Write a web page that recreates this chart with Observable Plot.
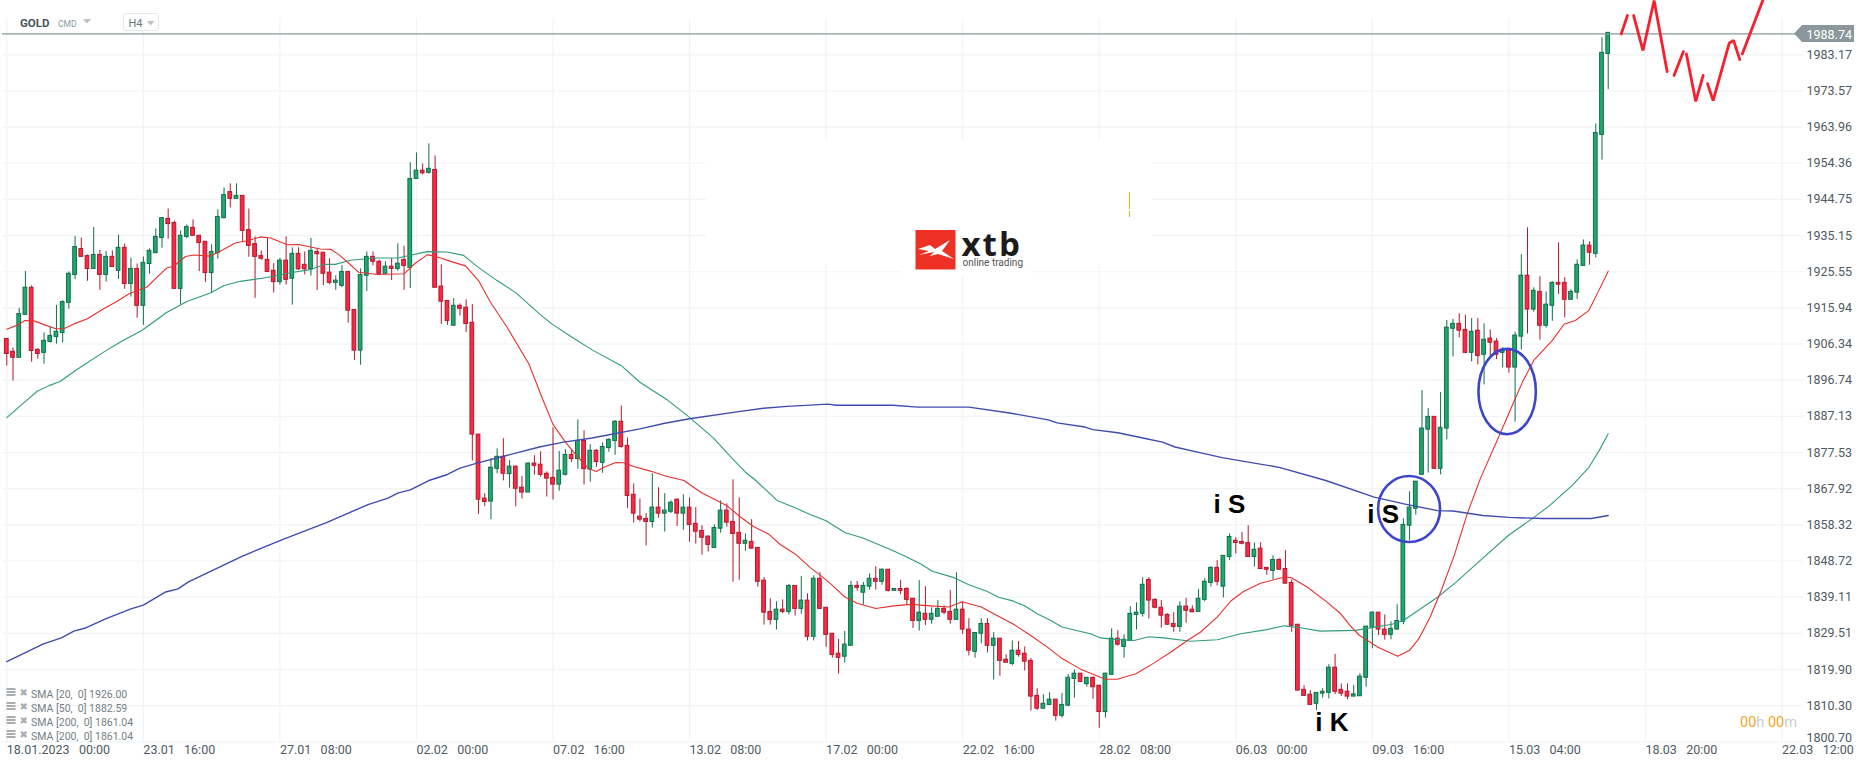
<!DOCTYPE html>
<html>
<head>
<meta charset="utf-8">
<script src="https://cdn.jsdelivr.net/npm/d3@7"></script>
<script src="https://cdn.jsdelivr.net/npm/@observablehq/plot@0.6"></script>
<style>
html,body{margin:0;padding:0;background:#fff}
svg{display:block}
</style>
</head>
<body>
<div id="chart"></div>
<script>
const opens = [
1907.7,1904.3,1902.7,1914.1,1921.3,1904.8,1904.0,1906.9,1908.2,1909.3,
1917.3,1924.7,1931.6,1929.7,1926.3,1930.0,1924.7,1929.5,1925.8,1931.9,
1922.3,1926.3,1916.5,1927.6,1930.5,1934.5,1939.6,1938.5,1921.0,1934.8,
1937.2,1935.1,1933.5,1925.2,1930.5,1939.8,1946.7,1944.9,1945.7,1936.6,
1932.9,1929.7,1928.7,1925.8,1922.8,1928.5,1923.7,1930.3,1927.4,1926.2,
1930.8,1930.6,1925.3,1922.6,1921.8,1925.5,1915.4,1904.6,1924.5,1929.5,
1928.2,1925.0,1926.9,1926.3,1928.7,1926.6,1950.2,1952.4,1951.8,1952.6,
1921.6,1917.8,1911.2,1916.5,1916.0,1912.0,1882.3,1865.3,1864.5,1873.2,
1876.4,1871.8,1873.8,1868.2,1866.9,1874.6,1874.3,1871.9,1870.8,1869.0,
1871.6,1876.9,1875.8,1880.6,1873.0,1878.0,1874.8,1878.7,1880.6,1885.7,
1879.3,1866.3,1860.5,1859.9,1859.1,1862.9,1861.3,1861.8,1865.0,1861.3,
1862.9,1858.6,1856.7,1855.2,1852.2,1857.3,1862.1,1859.1,1856.2,1853.3,
1853.8,1852.2,1843.5,1835.2,1833.1,1835.8,1835.2,1842.1,1836.0,1838.2,
1828.6,1844.0,1836.3,1829.4,1824.1,1823.3,1826.2,1842.1,1840.3,1841.9,
1844.0,1843.2,1846.4,1840.8,1841.3,1841.3,1838.7,1832.8,1834.7,1833.1,
1833.9,1836.0,1835.2,1833.1,1835.8,1830.5,1824.6,1829.4,1832.0,1826.2,
1828.1,1822.5,1821.4,1824.9,1824.1,1822.2,1812.9,1809.5,1810.5,1811.9,
1807.6,1810.3,1817.4,1818.8,1816.0,1817.7,1815.6,1808.6,1818.5,1828.1,
1825.9,1827.5,1834.4,1834.7,1843.7,1838.4,1836.3,1834.4,1832.0,1831.2,
1836.6,1835.8,1835.2,1838.4,1842.9,1846.9,1841.9,1849.8,1854.1,1853.8,
1853.5,1849.8,1852.0,1846.9,1846.1,1849.0,1846.6,1842.9,1831.8,1814.5,
1813.2,1810.8,1813.5,1813.7,1820.4,1814.5,1814.0,1812.7,1812.8,1817.7,
1831.0,1835.0,1830.5,1829.1,1830.5,1832.6,1858.1,1862.6,1871.6,1883.6,
1887.0,1873.2,1883.9,1910.4,1911.7,1910.1,1904.0,1909.9,1903.5,1907.8,
1907.0,1904.0,1904.6,1900.1,1908.3,1924.5,1915.5,1920.2,1911.2,1916.5,
1922.6,1922.6,1918.1,1920.0,1927.1,1932.5,1930.3,1961.9,1983.4];
const closes = [
1903.7,1902.7,1914.3,1921.3,1904.5,1903.7,1907.2,1908.5,1909.6,1917.5,
1925.0,1932.1,1929.5,1926.3,1930.0,1924.7,1929.5,1926.8,1931.9,1922.3,
1926.3,1916.5,1927.9,1931.1,1934.8,1939.8,1938.2,1921.0,1935.1,1937.4,
1935.1,1933.2,1925.2,1930.8,1940.1,1945.9,1944.9,1945.7,1936.4,1932.4,
1929.5,1929.0,1925.5,1922.8,1928.5,1923.4,1930.3,1926.2,1926.2,1931.1,
1930.2,1925.0,1922.6,1923.2,1925.5,1915.2,1904.6,1924.7,1929.5,1928.2,
1925.0,1926.9,1926.3,1927.7,1927.1,1950.2,1952.4,1951.7,1952.9,1921.3,
1917.6,1912.5,1916.5,1915.7,1911.7,1882.3,1865.0,1864.4,1873.5,1876.4,
1871.9,1873.8,1867.9,1866.9,1874.6,1874.0,1871.6,1870.6,1869.0,1872.7,
1876.9,1875.8,1880.6,1873.1,1878.0,1875.0,1879.0,1880.9,1885.7,1879.0,
1866.0,1861.3,1859.7,1859.1,1862.9,1861.3,1862.1,1864.2,1861.3,1862.9,
1858.3,1856.5,1854.9,1853.0,1857.5,1862.1,1858.9,1855.9,1853.3,1854.1,
1852.0,1843.2,1835.0,1833.1,1835.8,1835.2,1842.1,1836.0,1838.2,1828.6,
1844.0,1836.0,1829.1,1823.8,1823.0,1826.5,1842.1,1841.6,1842.1,1844.0,
1843.2,1846.4,1840.8,1841.3,1840.8,1838.4,1832.8,1835.0,1833.1,1834.7,
1836.0,1835.0,1833.1,1835.8,1830.5,1824.9,1829.6,1832.0,1826.2,1828.1,
1822.2,1821.7,1824.9,1823.8,1822.0,1812.7,1809.5,1810.8,1811.9,1807.6,
1810.5,1817.7,1818.8,1816.6,1817.7,1815.2,1808.6,1818.8,1828.1,1826.5,
1827.8,1834.7,1835.0,1842.4,1838.2,1836.3,1834.2,1831.8,1831.2,1836.6,
1835.5,1835.1,1838.7,1843.2,1846.9,1843.2,1850.1,1855.1,1853.5,1853.3,
1849.8,1851.7,1846.6,1846.4,1849.0,1846.4,1842.7,1831.5,1814.3,1812.9,
1810.5,1813.7,1814.0,1820.4,1814.0,1813.5,1812.7,1813.3,1818.0,1831.3,
1835.0,1830.5,1829.1,1830.7,1832.8,1858.3,1862.9,1869.8,1883.9,1887.0,
1873.2,1884.1,1910.7,1911.7,1909.9,1904.0,1909.6,1903.2,1907.5,1906.7,
1903.5,1904.8,1900.1,1908.6,1924.5,1915.5,1920.5,1911.2,1916.8,1922.6,
1922.1,1918.1,1920.2,1927.4,1932.5,1930.6,1962.4,1983.7,1989.0];
const highs = [
1907.7,1905.3,1915.8,1925.6,1921.8,1905.1,1909.3,1910.8,1916.6,1917.9,
1925.5,1934.9,1934.5,1930.0,1937.3,1931.2,1930.9,1931.1,1935.3,1932.9,
1929.2,1927.6,1929.5,1931.6,1936.9,1939.8,1942.2,1939.0,1936.4,1938.0,
1939.3,1935.1,1933.5,1932.7,1942.0,1947.8,1948.9,1948.9,1945.7,1942.2,
1934.8,1931.1,1934.5,1927.7,1929.1,1934.8,1931.9,1931.9,1930.8,1934.4,
1931.6,1930.6,1929.0,1924.5,1927.2,1925.5,1915.4,1926.3,1930.8,1930.8,
1928.6,1928.2,1929.0,1933.0,1932.3,1954.5,1957.1,1954.2,1959.5,1956.3,
1927.4,1917.8,1918.4,1917.0,1918.1,1916.8,1882.3,1866.6,1875.9,1878.5,
1881.2,1875.4,1873.8,1871.2,1874.8,1876.7,1877.7,1872.4,1884.1,1877.8,
1878.3,1878.3,1886.2,1883.3,1879.6,1878.3,1880.1,1881.2,1886.0,1889.9,
1881.4,1869.2,1865.2,1861.3,1871.9,1868.2,1866.6,1864.7,1865.2,1866.3,
1865.5,1862.9,1858.1,1855.4,1858.3,1864.7,1863.9,1870.3,1865.5,1855.9,
1859.7,1852.2,1844.3,1838.7,1837.9,1838.4,1842.5,1842.1,1844.6,1840.0,
1844.8,1845.6,1836.3,1829.4,1827.9,1830.0,1843.3,1843.3,1843.0,1845.3,
1847.2,1846.6,1846.4,1841.3,1843.6,1841.6,1838.7,1843.5,1841.9,1836.3,
1838.2,1836.8,1840.9,1845.6,1837.9,1833.4,1829.6,1833.4,1833.4,1829.7,
1828.1,1823.8,1827.5,1827.3,1825.9,1822.8,1814.8,1813.2,1813.7,1811.9,
1813.5,1818.6,1819.8,1818.8,1817.7,1817.9,1815.6,1818.9,1830.7,1830.2,
1829.1,1836.6,1837.6,1844.3,1844.3,1838.7,1838.2,1834.7,1835.0,1837.9,
1838.8,1836.8,1841.2,1844.0,1847.2,1848.8,1850.1,1855.9,1854.9,1856.3,
1858.1,1853.5,1853.6,1846.9,1850.1,1849.3,1851.5,1843.7,1831.8,1815.6,
1814.3,1813.7,1814.8,1821.2,1823.9,1816.1,1816.1,1815.7,1818.8,1831.3,
1835.2,1835.0,1834.4,1832.6,1837.1,1859.9,1867.1,1869.8,1894.0,1889.2,
1887.0,1893.5,1912.6,1912.9,1914.4,1914.0,1913.1,1913.1,1911.7,1910.1,
1907.8,1905.4,1904.8,1909.5,1930.1,1937.2,1921.3,1924.2,1920.2,1922.9,
1933.2,1924.0,1920.8,1928.7,1934.0,1933.5,1964.8,1987.7,1989.0];
const lows = [
1900.5,1896.5,1902.7,1914.1,1901.5,1902.3,1901.0,1906.6,1906.3,1906.6,
1915.6,1923.5,1929.5,1923.0,1926.3,1920.6,1922.8,1926.7,1923.5,1920.9,
1918.8,1913.2,1911.3,1924.9,1930.3,1931.8,1934.2,1921.0,1916.8,1934.3,
1935.1,1925.6,1922.7,1919.9,1928.9,1939.5,1942.5,1944.9,1933.5,1929.4,
1918.5,1928.6,1925.5,1919.9,1922.0,1922.0,1916.7,1925.9,1924.7,1924.4,
1920.6,1921.9,1922.1,1920.6,1921.3,1911.9,1902.0,1900.7,1920.3,1927.1,
1924.5,1925.0,1923.2,1925.7,1920.6,1921.1,1950.2,1951.2,1951.5,1921.3,
1911.6,1911.3,1911.2,1913.8,1909.4,1875.3,1861.1,1863.2,1859.7,1871.9,
1870.0,1868.1,1863.1,1865.2,1866.9,1871.5,1871.0,1865.7,1864.9,1867.3,
1871.3,1874.9,1873.1,1868.9,1869.7,1873.6,1872.0,1877.6,1876.8,1878.7,
1862.7,1858.8,1859.1,1852.7,1857.5,1860.1,1856.4,1861.3,1857.9,1856.9,
1853.7,1853.2,1850.3,1851.1,1852.2,1856.1,1857.7,1843.1,1843.6,1851.3,
1852.0,1841.8,1831.7,1831.7,1830.4,1834.7,1834.4,1834.1,1834.6,1827.5,
1827.5,1835.8,1825.8,1822.9,1818.7,1821.6,1826.2,1840.7,1837.0,1841.0,
1841.0,1842.3,1840.5,1840.8,1839.8,1836.9,1830.8,1830.1,1831.6,1831.9,
1833.9,1834.4,1831.9,1833.1,1829.2,1823.5,1822.9,1826.7,1824.3,1817.1,
1818.1,1821.7,1820.9,1823.2,1819.5,1808.9,1809.0,1809.5,1810.5,1806.2,
1807.0,1810.0,1812.3,1816.6,1815.2,1812.0,1804.3,1807.0,1818.5,1826.1,
1822.9,1827.5,1830.4,1833.8,1833.3,1836.0,1830.9,1831.6,1829.8,1829.8,
1832.2,1835.0,1835.2,1837.9,1841.8,1842.1,1838.9,1848.9,1850.6,1853.0,
1849.8,1847.1,1846.4,1844.9,1843.7,1846.4,1842.7,1829.8,1814.3,1812.7,
1810.5,1809.0,1812.3,1812.1,1813.2,1812.7,1811.9,1812.7,1812.8,1815.2,
1825.4,1828.9,1827.7,1827.8,1830.5,1831.8,1854.1,1860.9,1871.6,1872.1,
1873.2,1871.6,1880.9,1902.9,1908.0,1904.0,1901.6,1900.8,1895.5,1902.9,
1902.2,1900.0,1898.6,1885.6,1904.8,1909.0,1914.8,1907.4,1910.6,1912.4,
1919.5,1913.3,1918.1,1918.2,1927.1,1927.3,1929.2,1955.2,1973.9];

const sma20Idx = [0,1.9,2.9,4.4,6,7.9,9.2,10.8,12.9,15.6,17.8,19.7,22.6,24.2,25.8,26.9,28.8,30.1,32.8,34.4,36.8,38.7,40.9,42.5,45.2,47,50.5,52.2,53.5,55.1,56.7,59.7,64,65.8,67.8,69.9,71.5,73.9,76,77.9,80.6,84.1,86.4,88,90,92,93.8,95,96.2,98.1,99.4,101,103.7,106.1,109.1,111.8,113.9,116.1,118.2,120.3,122.8,124.6,127,129.5,131.1,132.7,134.9,137,140,142.9,145.6,148.8,151.8,153.9,157,159.6,162.2,164.9,167.6,170,173,174.6,177,178.9,181.9,184.8,187.5,190.2,192.3,195,197.2,199.3,202,205.2,206.8,209.5,212.7,214.9,216.5,217.9,220.9,224.1,226,227.5,229.3,231.1,233.2,235.3,237.4,240.7,242.8,244.2,246,249,250.9,252.7,254.9,256.5,258];
const sma20Val = [1910.3,1911.5,1912.6,1912.5,1911.5,1910.4,1910.4,1911.7,1913,1915.7,1917.7,1919.7,1921.5,1924.1,1926.6,1927,1929.6,1930,1929.7,1931,1933.2,1933.8,1934.8,1934.5,1932.7,1932.8,1931.6,1931.5,1930.1,1927.8,1925.4,1924.8,1925,1927.8,1930.1,1929.2,1928.3,1927.1,1923.2,1917.5,1910.8,1901.1,1891.4,1885,1880.3,1876.3,1873.2,1872.5,1873.6,1874.9,1874.8,1873.8,1872.6,1871.3,1870.1,1867,1865.2,1863.3,1860.4,1857.9,1855.8,1853.1,1850.6,1846.9,1844.9,1842.7,1839.3,1837.5,1836.1,1836.8,1837.2,1836.8,1836.5,1837.9,1836.5,1834.2,1831.9,1829,1825.9,1822.8,1820,1818.9,1817.3,1817.3,1818.8,1821.6,1824.5,1827.6,1829.8,1833.8,1838.1,1840.7,1842.8,1844.2,1844.4,1841.8,1837.8,1834.7,1831.4,1829,1825.8,1823.4,1825,1828.1,1833.8,1840.9,1850.2,1861.3,1870.6,1883,1891,1896.3,1902,1907.3,1911.6,1912.6,1915.3,1920.6,1925.7];
const sma50Idx = [0,3.2,4.9,6.8,8.6,11.3,15.6,18.3,21.8,25.8,29.1,32.8,35,37.6,41.9,45.7,48.9,51.1,52.9,55.4,59.1,63,67.7,70.9,73.6,75.8,79,82,84.1,86,87.8,91,94.3,99,102,106.5,109.6,113.9,116.9,119,120.4,124.1,126.8,129.5,131.9,135.1,137.8,141.8,144.5,147.2,149.1,152.6,155,157.9,159.8,161.9,163.9,166,168.2,170,173,174.6,176.2,178.4,181.6,184,186.4,190.7,195,198.8,203,205.8,208.4,211.6,217.3,223.2,225,230.5,233.5,237.4,241.9,246.2,248.6,252.2,254.9,256.7,258];
const sma50Val = [1886.8,1891.4,1893.8,1895.3,1896.4,1899.6,1904.2,1906.9,1910,1914.8,1917.7,1919.9,1921.9,1923,1924,1925.3,1926.1,1927.5,1927.5,1928.6,1929.2,1929.2,1930.9,1930.8,1929.9,1926.9,1923.2,1920,1916.9,1914.1,1911.7,1908.2,1904.8,1900.6,1896.2,1891.4,1887.4,1881.3,1875.9,1872.3,1870.5,1864.8,1863,1861,1859.5,1856.2,1854.9,1852.2,1850.2,1848,1846,1844.3,1842.4,1840.7,1839.1,1838.2,1836.9,1834.7,1832.9,1831.2,1830,1829.4,1828.3,1827.9,1827.6,1828.6,1828.3,1827.4,1827.8,1829.4,1830.5,1831.5,1831,1830.1,1830.3,1831.9,1832.9,1839.1,1843.1,1848.9,1855.5,1860.5,1863.5,1868.8,1873.6,1878.5,1882.5];
const sma200Idx = [0,5.9,8.8,10.8,12.8,16,20,22,25.6,27.6,29.2,37.8,44.4,51.6,58.2,61.4,63.1,65,68,71,73,75.9,80.2,85.8,89.7,94.3,102,106,110,117.9,121.9,125.7,132.3,133.6,142.8,146.8,155,161.3,167.8,169.2,173.7,175,179,183.6,186.2,188.2,192.2,196,205,212.5,220.3,225.1,230.5,233,237.8,242,247.4,255.3,258];
const sma200Val = [1822,1826.7,1828.3,1830.1,1831,1833.4,1836,1837,1840.5,1841.3,1843.1,1849.9,1854.4,1859,1863.7,1865.4,1866.8,1867.6,1870.1,1871.7,1873.4,1874.8,1876.6,1879,1880.3,1881.4,1883.8,1885.3,1886.5,1888.4,1889.3,1889.8,1890.4,1890.1,1890.1,1889.6,1889.6,1888.1,1886.2,1885.4,1884.3,1883.6,1882.8,1881.2,1880.3,1879,1877.5,1876.1,1873.6,1870.1,1865.7,1863.9,1862.1,1862,1860.8,1860.3,1860,1860,1860.8];

const forecastIdx = [260.1,261.1,262.1,263.6,265.4,267.5,268.6,270.1,270.6,272.1,273.3,274.0,274.9,277.5,278.2,279.2,279.6,282.9];
const forecastVal = [1988.7,1993.6,1993.6,1984.3,1997.6,1978.7,1977.7,1984.0,1983.4,1970.8,1977.7,1975.5,1971.0,1986.3,1987.0,1981.9,1983.4,1997.6];
const forecastSeg = [0,0,1,1,1,1,2,2,3,3,3,4,4,4,4,4,5,5];

const priceTicks = [1983.17,1973.57,1963.96,1954.36,1944.75,1935.15,1925.55,1915.94,1906.34,1896.74,1887.13,1877.53,1867.92,1858.32,1848.72,1839.11,1829.51,1819.90,1810.30,1800.70];
const timeTickIdx = [0,22,44,66,88,110,132,154,176,198,220,242,264,286];
const nb = "\u00a0\u00a0\u00a0";
const timeLabels = ["18.01.2023"+nb+"00:00","23.01"+nb+"16:00","27.01"+nb+"08:00","02.02"+nb+"00:00","07.02"+nb+"16:00","13.02"+nb+"08:00","17.02"+nb+"00:00","22.02"+nb+"16:00","28.02"+nb+"08:00","06.03"+nb+"00:00","09.03"+nb+"16:00","15.03"+nb+"04:00","18.03"+nb+"20:00","22.03"+nb+"12:00"];
const lastPrice = 1988.74;
const legendLines = ["SMA [20,\u00a0\u00a00] 1926.00","SMA [50,\u00a0\u00a00] 1882.59","SMA [200,\u00a0\u00a00] 1861.04","SMA [200,\u00a0\u00a00] 1861.04"];
const notes = [{i:194.4,p:1863.7,t:"i S"},{i:219.2,p:1861.1,t:"i S"},{i:210.8,p:1805.9,t:"i K"}];
const circles = [{i:226,p:1862.4,rx:31,ry:33},{i:241.8,p:1893.6,rx:28.7,ry:42.7}];

const candles = opens.map((o,i)=>({i,open:o,close:closes[i],high:highs[i],low:lows[i]}));
const up = candles.filter(d=>d.close>=d.open);
const down = candles.filter(d=>d.close<d.open);
const series = (xs,ys)=>xs.map((x,k)=>({x,y:ys[k]}));
const forecast = forecastIdx.map((x,k)=>({x,y:forecastVal[k],s:forecastSeg[k]}));

const gridColor="#f1f3f4", axisColor="#4f5a62";
const greenFill="#20a96f", greenEdge="#0f6e4b", redFill="#fb2a42", redEdge="#b2182e";

function chrome(){
  const g=d3.create("svg:g").attr("text-anchor","start");
  // white patch behind the logo, covers the grid
  g.append("rect").attr("x",706).attr("y",140).attr("width",446).attr("height",124).attr("fill","#fff");
  g.append("rect").attr("x",901).attr("y",264).attr("width",129).attr("height",12.5).attr("fill","#fff");
  // logo
  g.append("rect").attr("x",915.5).attr("y",230).attr("width",40).attr("height",39.5).attr("fill","#ee3124");
  g.append("path").attr("fill","#fff").attr("d","M918 249 L930 245 L935 249 L950 240 L942 251 L954 259 L938 254 L930 256 L934 252 L919 255 L929 251 Z");
  g.append("text").attr("x",961.5).attr("y",255.5).attr("font-family","'Open Sans'").attr("font-weight",700).attr("font-size",33).attr("letter-spacing",2).attr("fill","#1c1a1a").text("xtb");
  g.append("text").attr("x",962.5).attr("y",266).attr("font-family","Roboto").attr("font-size",10).attr("fill","#555").text("online trading");
  g.append("rect").attr("x",1129).attr("y",192).attr("width",1).attr("height",17).attr("fill","#b9c62e");
  g.append("rect").attr("x",1129).attr("y",211).attr("width",1).attr("height",6).attr("fill","#b9c62e");
  // header
  g.append("text").attr("x",20).attr("y",27).attr("font-family","Roboto").attr("font-weight",700).attr("font-size",11.5).attr("fill","#4a545c").text("GOLD");
  g.append("text").attr("x",58).attr("y",26.5).attr("font-family","Roboto").attr("font-size",8.5).attr("fill","#8c99a0").text("CMD");
  g.append("path").attr("d","M83 19 L91 19 L87 23.5 Z").attr("fill","#b9c1c6");
  g.append("rect").attr("x",123.5).attr("y",13.5).attr("width",35).attr("height",17).attr("rx",2.5).attr("fill","#fff").attr("stroke","#e4e7e9");
  g.append("text").attr("x",128.5).attr("y",27).attr("font-family","Roboto").attr("font-size",11).attr("fill","#6a757c").text("H4");
  g.append("path").attr("d","M147 21 L154.5 21 L150.7 25.5 Z").attr("fill","#b9c1c6");
  // legend
  legendLines.forEach((t,k)=>{
    const y=692+14*k;
    [-4,-1,2].forEach(o=>g.append("rect").attr("x",6.5).attr("y",y+o).attr("width",9).attr("height",2).attr("fill","#a9adb0"));
    g.append("text").attr("x",19.5).attr("y",y+3.5).attr("font-family","'DejaVu Sans'").attr("font-size",10).attr("fill","#a9adb0").text("\u2716");
    g.append("text").attr("x",31).attr("y",y+6).attr("font-family","Roboto").attr("font-size",10.5).attr("fill","#747e84").text(t);
  });
  // countdown
  const tm=g.append("text").attr("x",1740).attr("y",727).attr("font-family","Roboto").attr("font-size",14.5);
  [["00","#f5a623"],["h\u00a0","#c9cdd0"],["00","#f5a623"],["m","#c9cdd0"]].forEach(([t,c])=>tm.append("tspan").attr("fill",c).text(t));
  // price tag
  g.append("path").attr("d","M1794 33.5 L1802 25 L1854 25 L1854 42 L1802 42 Z").attr("fill","#8b979c");
  return g.node();
}
function rings(index,{x,y}){
  const g=d3.create("svg:g");
  circles.forEach(c=>g.append("ellipse").attr("cx",x(c.i)).attr("cy",y(c.p)).attr("rx",c.rx).attr("ry",c.ry).attr("fill","none").attr("stroke","#3d46c9").attr("stroke-width",2.6));
  return g.node();
}

const plot = Plot.plot({
  width:1866, height:767,
  marginLeft:2, marginRight:63, marginTop:18, marginBottom:25.7,
  style:{background:"#fff",fontFamily:"Roboto",fontSize:"12.5px",color:axisColor},
  x:{domain:[0,286],range:[6.3,1781.5]},
  y:{domain:[1800.70,1992.81]},
  marks:[
    Plot.gridY(priceTicks,{stroke:gridColor,strokeOpacity:1,strokeWidth:1.2}),
    Plot.gridX(timeTickIdx,{stroke:gridColor,strokeOpacity:1,strokeWidth:1.2}),
    chrome,
    Plot.ruleX(up,{x:"i",y1:"low",y2:"high",stroke:greenEdge,strokeWidth:1}),
    Plot.ruleX(down,{x:"i",y1:"low",y2:"high",stroke:redEdge,strokeWidth:1}),
    Plot.rect(up,{x1:d=>d.i-0.3,x2:d=>d.i+0.3,y1:"open",y2:"close",fill:greenFill,stroke:greenEdge,strokeWidth:1}),
    Plot.rect(down,{x1:d=>d.i-0.3,x2:d=>d.i+0.3,y1:"open",y2:"close",fill:redFill,stroke:redEdge,strokeWidth:1}),
    Plot.line(series(sma50Idx,sma50Val),{x:"x",y:"y",stroke:"#2f9c7b",strokeWidth:1.1}),
    Plot.line(series(sma20Idx,sma20Val),{x:"x",y:"y",stroke:"#e7302d",strokeWidth:1.1}),
    Plot.line(series(sma200Idx,sma200Val),{x:"x",y:"y",stroke:"#3f4cb0",strokeWidth:1.4}),
    Plot.ruleY([lastPrice],{stroke:"#8b979c",strokeWidth:1.2}),
    Plot.line(forecast,{x:"x",y:"y",z:"s",stroke:"#f6202e",strokeWidth:2.8,strokeLinejoin:"miter"}),
    rings,
    Plot.text(notes,{x:"i",y:"p",text:"t",textAnchor:"start",fontSize:26,fontWeight:700,fontFamily:"Liberation Sans",fill:"#000"}),
    Plot.axisX({ticks:timeTickIdx,tickFormat:i=>timeLabels[timeTickIdx.indexOf(i)],tickSize:0,tickPadding:3,textAnchor:"start",label:null,fill:axisColor,fontSize:12.5}),
    Plot.axisY({anchor:"right",ticks:priceTicks.slice(0,-1),tickFormat:d=>d.toFixed(2),tickSize:0,tickPadding:3,label:null,fill:axisColor,fontSize:12.5}),
    Plot.text([priceTicks[priceTicks.length-1]],{y:d=>d,text:d=>d.toFixed(2),frameAnchor:"right",dx:3,dy:-3.5,textAnchor:"start",fill:axisColor,fontSize:12.5}),
    Plot.text([lastPrice],{y:d=>d,text:d=>d.toFixed(2),frameAnchor:"right",dx:3,dy:1,textAnchor:"start",fill:"#fff",fontSize:12.5})
  ]
});
document.getElementById("chart").append(plot);
</script>
</body>
</html>
